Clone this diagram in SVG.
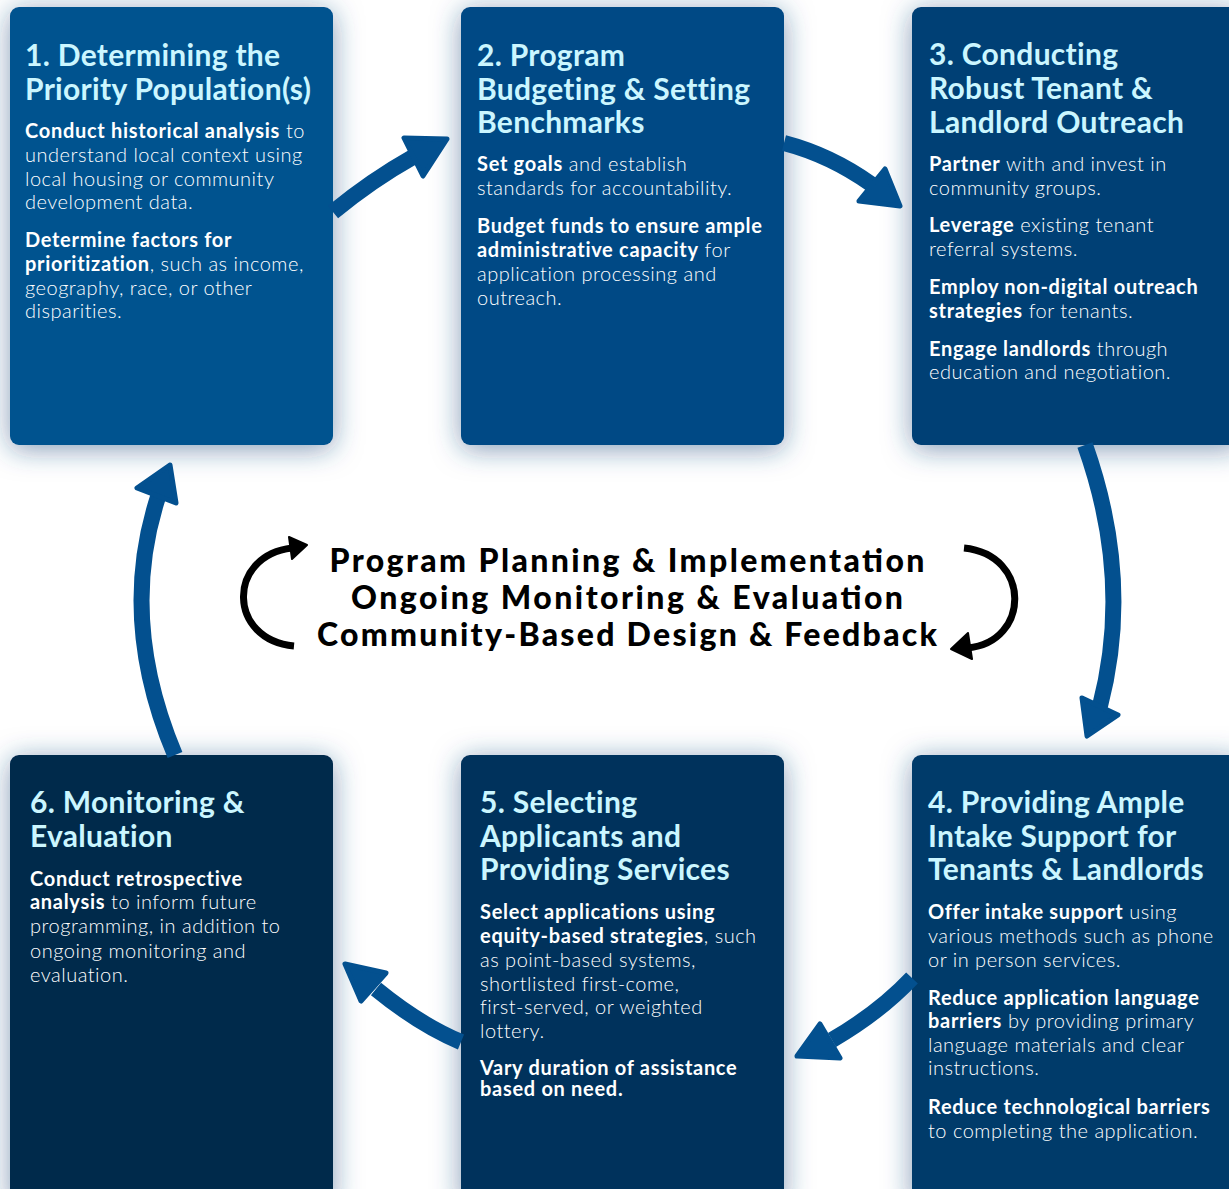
<svg xmlns="http://www.w3.org/2000/svg" width="1229" height="1189" viewBox="0 0 1229 1189">
<defs>
<style>
.t{font-family:Lato,"Noto Sans","Liberation Sans",sans-serif;font-weight:700;font-size:30px;letter-spacing:0.3px;fill:#CBF6FF}
.b{font-family:Lato,"Noto Sans","Liberation Sans",sans-serif;font-weight:300;font-size:20px;letter-spacing:0.5px;fill:#FFFFFF}
.k{font-weight:700;letter-spacing:0.7px}
.c{font-family:Lato,"Noto Sans","Liberation Sans",sans-serif;font-weight:900;font-size:32px;fill:#000000}
.shaft{fill:none;stroke:#03508F;stroke-width:16}
.head{fill:#03508F;stroke:#03508F;stroke-width:5;stroke-linejoin:round}
.loop{fill:none;stroke:#000;stroke-width:7}
.loophead{fill:#000;stroke:#000;stroke-width:2;stroke-linejoin:round}
</style>
<filter id="sh" x="-30%" y="-30%" width="160%" height="160%">
<feDropShadow dx="0" dy="4" stdDeviation="14" flood-color="#1E4C7E" flood-opacity="0.55"/>
</filter>
</defs>
<rect width="1229" height="1189" fill="#FFFFFF"/>

<g id="node1">
<rect x="10" y="7" width="323" height="438" rx="9" fill="#03528F" filter="url(#sh)"/>
<text class="t" x="25" y="66">1. Determining the</text>
<text class="t" x="25" y="100">Priority Population(s)</text>
<text class="b" x="25" y="138"><tspan class="k">Conduct historical analysis</tspan> to</text>
<text class="b" x="25" y="162">understand local context using</text>
<text class="b" x="25" y="186">local housing or community</text>
<text class="b" x="25" y="209">development data.</text>
<text class="b" x="25" y="247"><tspan class="k">Determine factors for</tspan></text>
<text class="b" x="25" y="271"><tspan class="k">prioritization</tspan>, such as income,</text>
<text class="b" x="25" y="295">geography, race, or other</text>
<text class="b" x="25" y="318">disparities.</text>
</g>

<g id="node2">
<rect x="461" y="7" width="323" height="438" rx="9" fill="#034A85" filter="url(#sh)"/>
<text class="t" x="477" y="66">2. Program</text>
<text class="t" x="477" y="100">Budgeting &amp; Setting</text>
<text class="t" x="477" y="133">Benchmarks</text>
<text class="b" x="477" y="171"><tspan class="k">Set goals</tspan> and establish</text>
<text class="b" x="477" y="195">standards for accountability.</text>
<text class="b" x="477" y="233"><tspan class="k">Budget funds to ensure ample</tspan></text>
<text class="b" x="477" y="257"><tspan class="k">administrative capacity</tspan> for</text>
<text class="b" x="477" y="281">application processing and</text>
<text class="b" x="477" y="305">outreach.</text>
</g>

<g id="node3">
<rect x="912" y="7" width="330" height="438" rx="9" fill="#023F74" filter="url(#sh)"/>
<text class="t" x="929" y="65">3. Conducting</text>
<text class="t" x="929" y="99">Robust Tenant &amp;</text>
<text class="t" x="929" y="133">Landlord Outreach</text>
<text class="b" x="929" y="171"><tspan class="k">Partner</tspan> with and invest in</text>
<text class="b" x="929" y="195">community groups.</text>
<text class="b" x="929" y="232"><tspan class="k">Leverage</tspan> existing tenant</text>
<text class="b" x="929" y="256">referral systems.</text>
<text class="b" x="929" y="294"><tspan class="k">Employ non-digital outreach</tspan></text>
<text class="b" x="929" y="318"><tspan class="k">strategies</tspan> for tenants.</text>
<text class="b" x="929" y="356"><tspan class="k">Engage landlords</tspan> through</text>
<text class="b" x="929" y="379">education and negotiation.</text>
</g>

<g id="node4">
<rect x="912" y="755" width="330" height="450" rx="9" fill="#023A6B" filter="url(#sh)"/>
<text class="t" x="928" y="813">4. Providing Ample</text>
<text class="t" x="928" y="847">Intake Support for</text>
<text class="t" x="928" y="880">Tenants &amp; Landlords</text>
<text class="b" x="928" y="919"><tspan class="k">Offer intake support</tspan> using</text>
<text class="b" x="928" y="943">various methods such as phone</text>
<text class="b" x="928" y="967">or in person services.</text>
<text class="b" x="928" y="1005"><tspan class="k">Reduce application language</tspan></text>
<text class="b" x="928" y="1028"><tspan class="k">barriers</tspan> by providing primary</text>
<text class="b" x="928" y="1052">language materials and clear</text>
<text class="b" x="928" y="1075">instructions.</text>
<text class="b" x="928" y="1114"><tspan class="k">Reduce technological barriers</tspan></text>
<text class="b" x="928" y="1138">to completing the application.</text>
</g>

<g id="node5">
<rect x="461" y="755" width="323" height="450" rx="9" fill="#02325B" filter="url(#sh)"/>
<text class="t" x="480" y="813">5. Selecting</text>
<text class="t" x="480" y="847">Applicants and</text>
<text class="t" x="480" y="880">Providing Services</text>
<text class="b" x="480" y="919"><tspan class="k">Select applications using</tspan></text>
<text class="b" x="480" y="943"><tspan class="k">equity-based strategies</tspan>, such</text>
<text class="b" x="480" y="967">as point-based systems,</text>
<text class="b" x="480" y="991">shortlisted first-come,</text>
<text class="b" x="480" y="1014">first-served, or weighted</text>
<text class="b" x="480" y="1038">lottery.</text>
<text class="b" x="480" y="1075"><tspan class="k">Vary duration of assistance</tspan></text>
<text class="b" x="480" y="1096"><tspan class="k">based on need.</tspan></text>
</g>

<g id="node6">
<rect x="10" y="755" width="323" height="450" rx="9" fill="#02294C" filter="url(#sh)"/>
<text class="t" x="30" y="813">6. Monitoring &amp;</text>
<text class="t" x="30" y="847">Evaluation</text>
<text class="b" x="30" y="886"><tspan class="k">Conduct retrospective</tspan></text>
<text class="b" x="30" y="909"><tspan class="k">analysis</tspan> to inform future</text>
<text class="b" x="30" y="933">programming, in addition to</text>
<text class="b" x="30" y="958">ongoing monitoring and</text>
<text class="b" x="30" y="982">evaluation.</text>
</g>

<g id="connectors">
<path class="shaft" d="M 333 212 Q 372 180 413 157"/>
<polygon class="head" points="404,138 447,139 423,176"/>
<path class="shaft" d="M 784 143 Q 830 155 871 184"/>
<polygon class="head" points="885,169 900,206 859,201"/>
<path class="shaft" d="M 1085 445 Q 1133 580 1100 706"/>
<polygon class="head" points="1082,698 1118,715 1087,736"/>
<path class="shaft" d="M 912 978 Q 880 1012 832 1040"/>
<polygon class="head" points="820,1024 840,1058 797,1056"/>
<path class="shaft" d="M 461 1042 Q 420 1025 376 989"/>
<polygon class="head" points="345,964 386,973 361,1001"/>
<path class="shaft" d="M 175 755 Q 118 620 158 497"/>
<polygon class="head" points="170,465 137,488 176,503"/>
</g>

<g id="center">
<path class="loop" d="M 294 646 C 228 640 226 556 292 548"/>
<polygon class="loophead" points="289,537 307,545 292,559"/>
<path class="loop" d="M 964 548 C 1032 555 1030 642 968 648"/>
<polygon class="loophead" points="968,633 951,649 972,659"/>
<text class="c" x="627" y="572" text-anchor="middle" textLength="595" lengthAdjust="spacing">Program Planning &amp; Implementation</text>
<text class="c" x="627" y="609" text-anchor="middle" textLength="552" lengthAdjust="spacing">Ongoing Monitoring &amp; Evaluation</text>
<text class="c" x="627" y="646" text-anchor="middle" textLength="620" lengthAdjust="spacing">Community-Based Design &amp; Feedback</text>
</g>
</svg>
